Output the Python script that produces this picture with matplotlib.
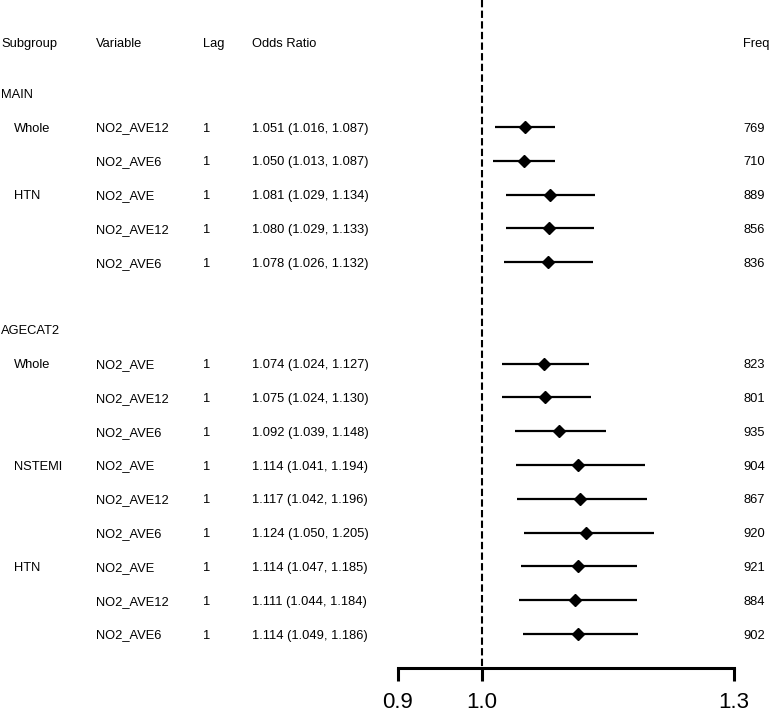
import matplotlib
matplotlib.use('Agg')
import matplotlib.pyplot as plt
from matplotlib import transforms

plt.rcParams['font.family'] = ['Liberation Sans', 'DejaVu Sans']

# data
sections = ['MAIN', 'AGECAT2']
subgroups = [['Whole', '', 'HTN', '', ''],
             ['Whole', '', '', 'NSTEMI', '', '', 'HTN', '', '']]
variables = [['NO2_AVE12', 'NO2_AVE6', 'NO2_AVE', 'NO2_AVE12', 'NO2_AVE6'],
             ['NO2_AVE', 'NO2_AVE12', 'NO2_AVE6', 'NO2_AVE', 'NO2_AVE12', 'NO2_AVE6',
              'NO2_AVE', 'NO2_AVE12', 'NO2_AVE6']]
lags = [[1, 1, 1, 1, 1], [1, 1, 1, 1, 1, 1, 1, 1, 1]]
odds = [[1.051, 1.050, 1.081, 1.080, 1.078],
        [1.074, 1.075, 1.092, 1.114, 1.117, 1.124, 1.114, 1.111, 1.114]]
lower = [[1.016, 1.013, 1.029, 1.029, 1.026],
         [1.024, 1.024, 1.039, 1.041, 1.042, 1.050, 1.047, 1.044, 1.049]]
upper = [[1.087, 1.087, 1.134, 1.133, 1.132],
         [1.127, 1.130, 1.148, 1.194, 1.196, 1.205, 1.185, 1.184, 1.186]]
freq = [[769, 710, 889, 856, 836],
        [823, 801, 935, 904, 867, 920, 921, 884, 902]]
headers = ['Subgroup', 'Variable', 'Lag', 'Odds Ratio', 'Freq']
ticks = [0.9, 1.0, 1.3]

W, H = 769, 713
fig = plt.figure(figsize=(W / 100, H / 100), dpi=100)
ax = fig.add_axes([0, 0, 1, 1])
ax.axis('off')

# pixel mapping: 0.9 -> 398px, 84px per 0.1; row 0 at 127px, 33.8px per row
xpx = 840.0
ax.set_xlim(0.9 - 398 / xpx, 0.9 + (W - 398) / xpx)
rowpx = 33.8
ytop = -127 / rowpx
ax.set_ylim((H - 127) / rowpx, ytop)

tr = transforms.blended_transform_factory(ax.transAxes, ax.transData)
col_x = [1, 96, 203, 252, 743]
fs = 9.3
off = 0.135  # baseline sits half a cap height below the row centre
kw = dict(transform=tr, fontsize=fs, va='baseline', ha='left')

for x, h in zip(col_x, headers):
    ax.text(x / W, -2.5 + off, h, **kw)

row = 0
for s in range(len(sections)):
    ax.text(col_x[0] / W, row - 1 + off, sections[s], **kw)
    for i in range(len(odds[s])):
        y = row + i
        ax.text(14 / W, y + off, subgroups[s][i], **kw)
        ax.text(col_x[1] / W, y + off, variables[s][i], **kw)
        ax.text(col_x[2] / W, y + off, str(lags[s][i]), **kw)
        ax.text(col_x[3] / W, y + off, '%.3f (%.3f, %.3f)' % (odds[s][i], lower[s][i], upper[s][i]), **kw)
        ax.text(col_x[4] / W, y + off, str(freq[s][i]), **kw)
        ax.plot([lower[s][i], upper[s][i]], [y, y], color='black', lw=1.6, solid_capstyle='butt')
        ax.plot(odds[s][i], y, 'D', color='black', ms=6)
    row += len(odds[s]) + 2

axis_y = 16
ax.plot([1.0, 1.0], [ytop, axis_y], color='black', lw=1.5, dashes=(3.5, 1.6))
ax.plot([ticks[0], ticks[-1]], [axis_y, axis_y], color='black', lw=2.2, solid_capstyle='projecting')
for t in ticks:
    ax.plot([t, t], [axis_y, axis_y + 0.4], color='black', lw=2.2, solid_capstyle='butt')
    ax.text(t, axis_y + 1.04, '%.1f' % t, fontsize=16, ha='center', va='center')

fig.savefig('out.png', dpi=100)
